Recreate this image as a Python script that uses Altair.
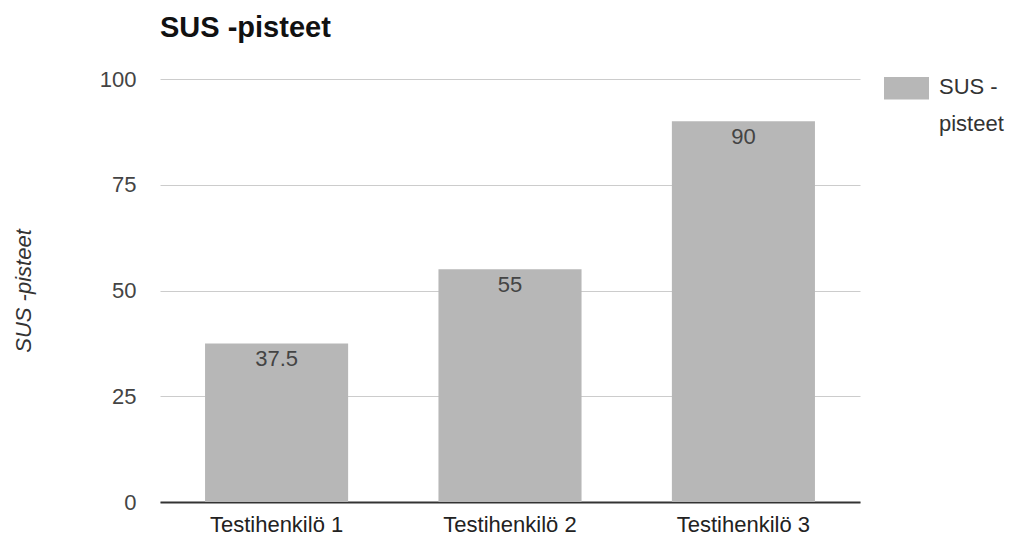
import altair as alt
import pandas as pd

categories = ["Testihenkilö 1", "Testihenkilö 2", "Testihenkilö 3"]
values = [37.5, 55, 90]
series_name = "SUS -pisteet"
legend_lines = ["SUS -", "pisteet"]
y_ticks = [0, 25, 50, 75, 100]

df = pd.DataFrame({"cat": categories, "val": values, "series": [series_name] * len(categories)})
df["lbl"] = [("%g" % v) for v in values]

FONT = "Liberation Sans"
BAR = "#b7b7b7"

base = alt.Chart(df)

bars = base.mark_bar(color=BAR).encode(
    x=alt.X(
        "cat:N",
        title=None,
        sort=categories,
        scale=alt.Scale(paddingInner=0.387, paddingOuter=0.193),
        axis=alt.Axis(
            labelAngle=0,
            ticks=False,
            domainColor="#333333",
            domainWidth=2,
            labelPadding=12,
            labelFontSize=22,
            labelColor="#222222",
            labelFont=FONT,
            grid=False,
        ),
    ),
    y=alt.Y(
        "val:Q",
        title="SUS -pisteet",
        scale=alt.Scale(domain=[0, 100], nice=False),
        axis=alt.Axis(
            values=y_ticks,
            domain=False,
            ticks=False,
            labelPadding=24,
            labelFontSize=22,
            labelColor="#444444",
            labelFont=FONT,
            gridColor="#cccccc",
            gridWidth=1,
            titleFont=FONT,
            titleFontSize=22,
            titleFontStyle="italic",
            titleFontWeight="normal",
            titleColor="#333333",
            titleAngle=270,
            titleAlign="center",
            titleBaseline="alphabetic",
            titleX=-130,
            titleY=211.5,
        ),
    ),
    color=alt.Color(
        "series:N",
        scale=alt.Scale(range=[BAR]),
        legend=alt.Legend(
            title=legend_lines,
            titleOrient="right",
            titleAnchor="start",
            titleBaseline="top",
            titleLineHeight=37,
            titleFont=FONT,
            titleFontSize=22,
            titleFontWeight="normal",
            titleColor="#333333",
            titlePadding=10,
            orient="none",
            legendX=724,
            legendY=-2,
            symbolType="M-1,-1H1V0H-1Z",
            symbolSize=2025,
            symbolStrokeWidth=0,
            labelExpr="''",
            labelOffset=0,
        ),
    ),
)

text = base.mark_text(
    baseline="top", dy=6, fontSize=22, font=FONT, color="#444444"
).encode(
    x=alt.X("cat:N", sort=categories),
    y=alt.Y("val:Q"),
    text="lbl:N",
)

chart = (
    alt.layer(bars, text)
    .properties(
        width=700,
        height=423,
        autosize=alt.AutoSizeParams(type="none"),
        padding={"left": 160, "top": 79, "right": 154, "bottom": 34},
        background="white",
        title=alt.TitleParams(
            "SUS -pisteet",
            anchor="start",
            frame="group",
            font=FONT,
            fontSize=29,
            fontWeight="bold",
            color="#111111",
            offset=25,
        ),
    )
    .configure_view(stroke=None)
)

chart.save("out.html", embed_options={"renderer": "svg", "actions": False})
